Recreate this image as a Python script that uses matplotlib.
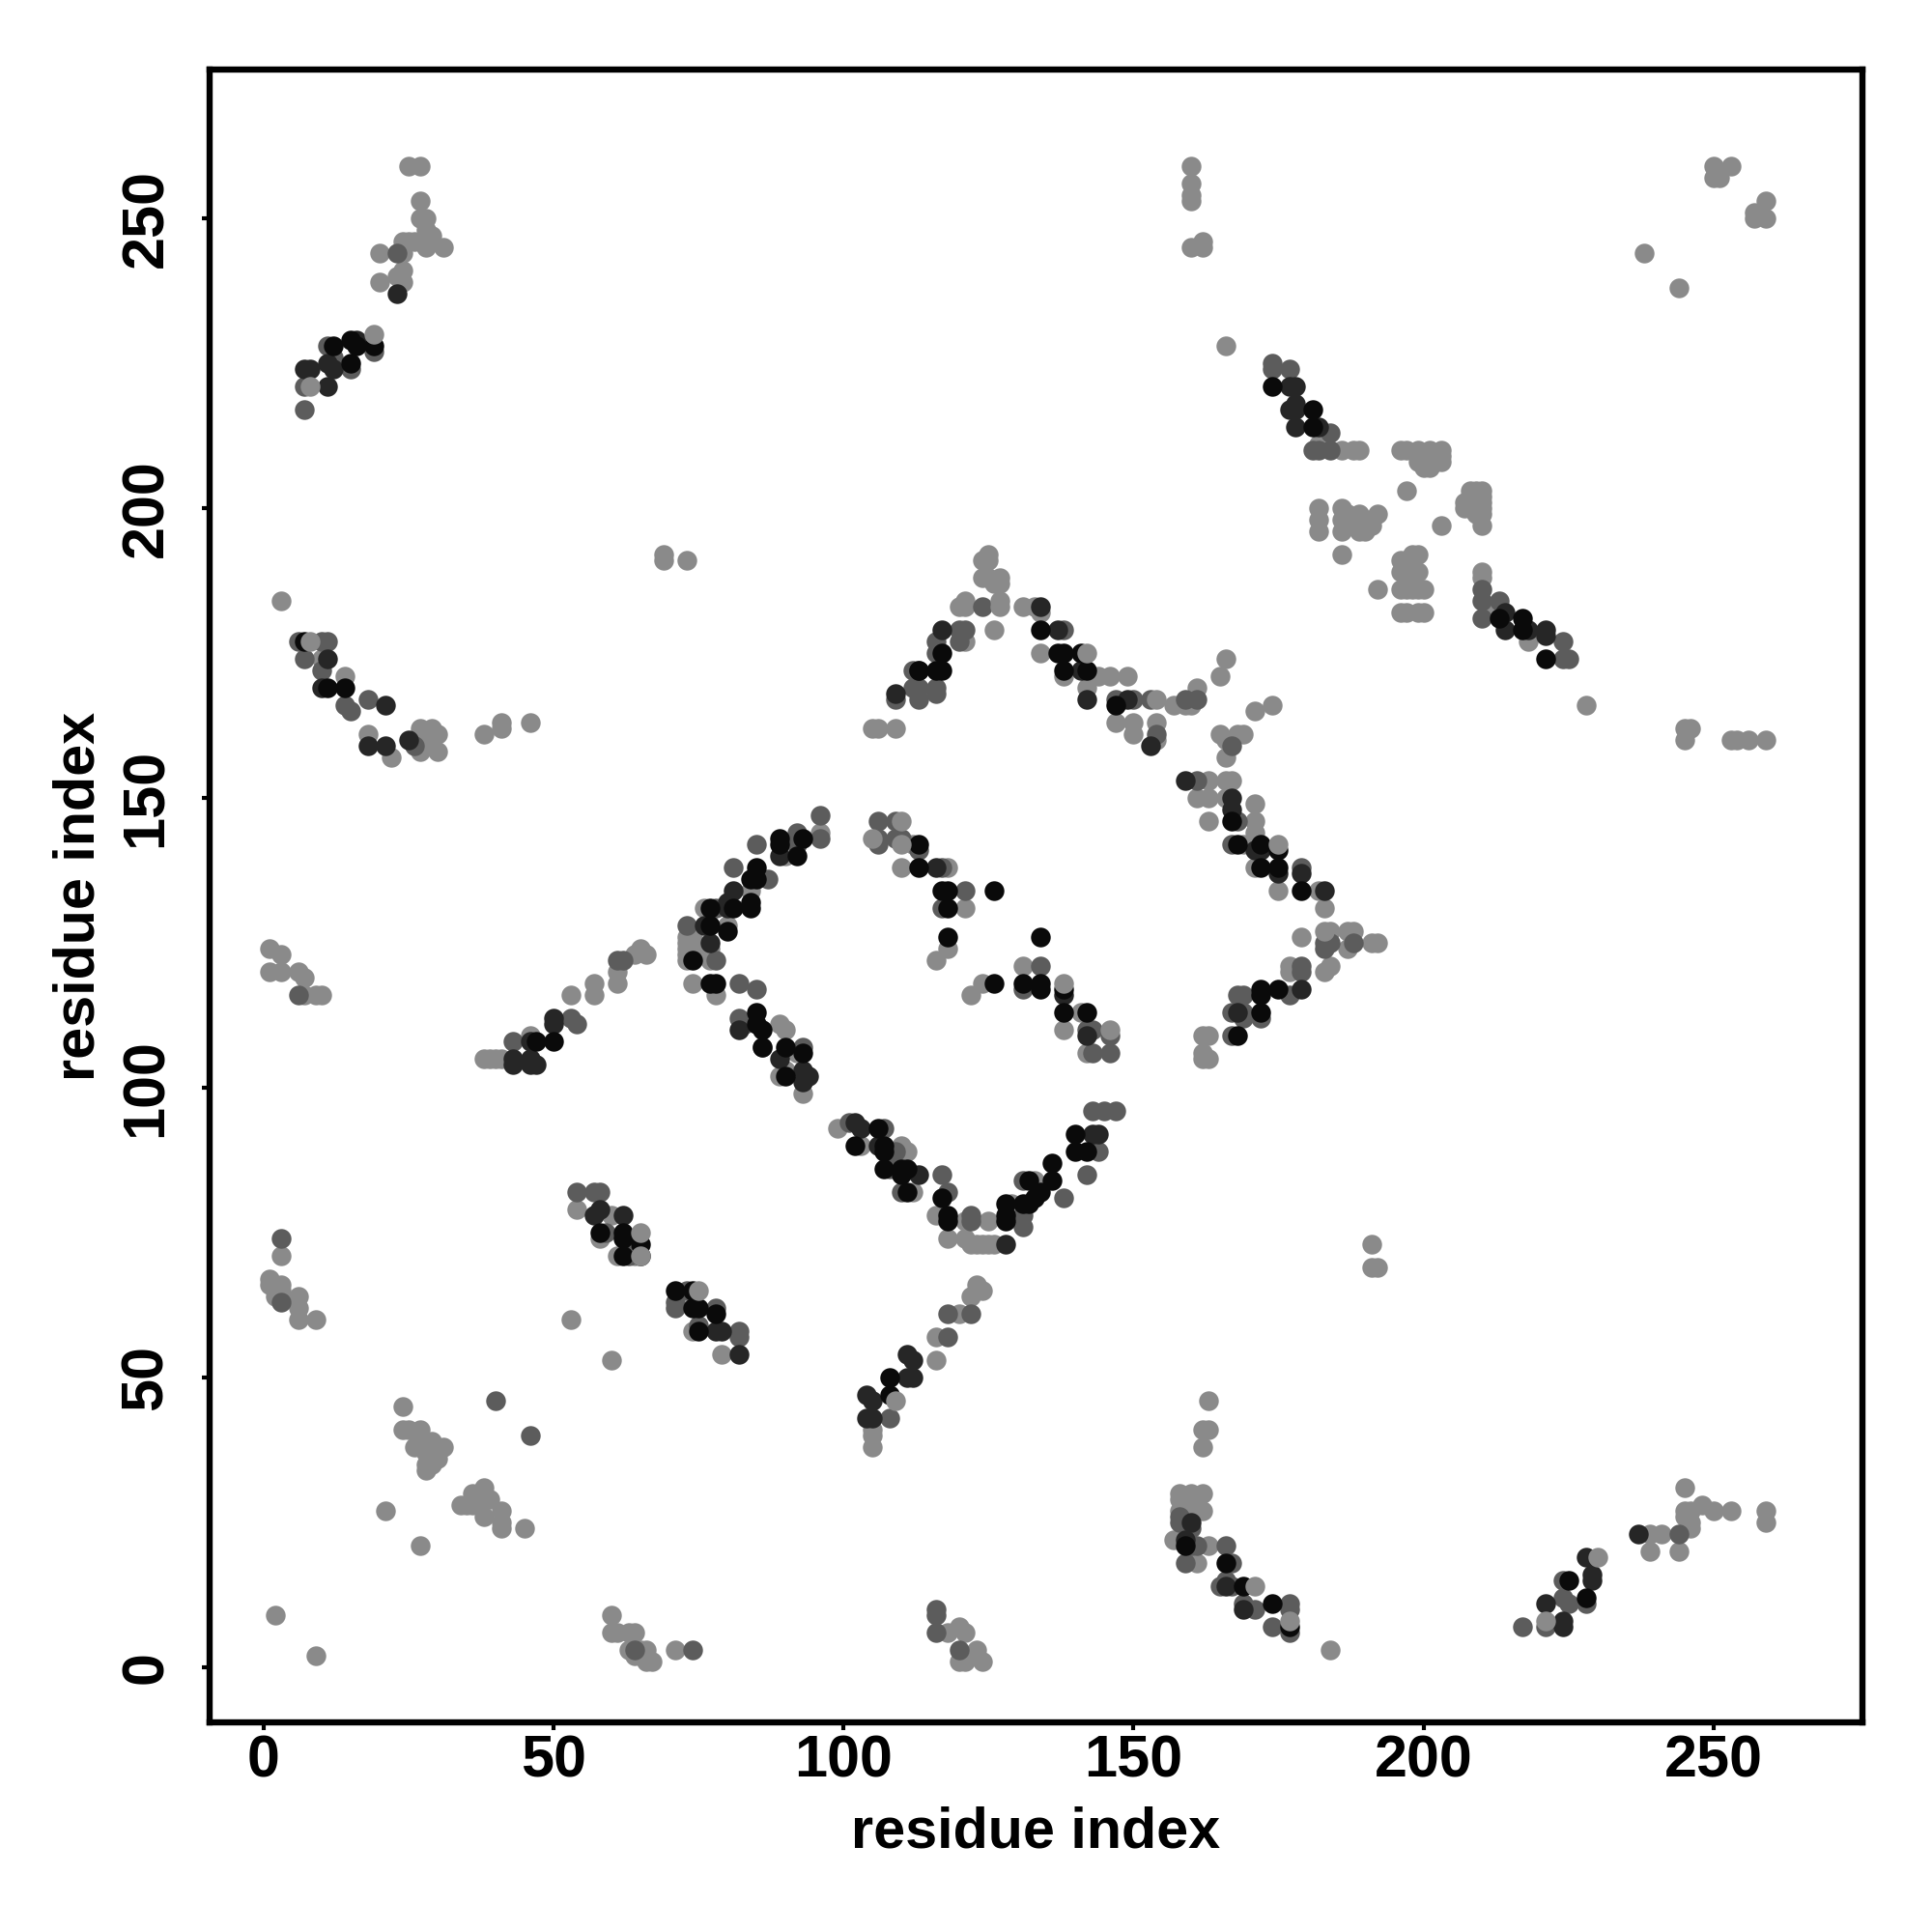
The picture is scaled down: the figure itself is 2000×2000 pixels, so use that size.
import matplotlib
matplotlib.use("Agg")
import matplotlib.pyplot as plt
import numpy as np

# contacts, grouped by grey level
light = [(25,259),(27,259),(27,253),(27,250),(28,250),(28,248),(28,245),(31,245),(20,244),(24,246),(25,246),(26,246),(27,246),(29,247),
(24,244),(20,239),(24,239),(24,241),(23,240),(69,192),(69,191),(73,191),(3,184),(10,174),(14,171),
(18,161),(22,157),(27,162),(29,162),(30,161),(30,158),(27,158),(28,160),(27,160),(38,161),(41,163),(41,162),(46,163),
(1,124),(1,120),(3,123),(3,120),(6,120),(7,119),(7,116),(9,116),(10,116),
(96,144),(90,140),(84,134),(76,131),(80,128),(77,124),(74,126),(73,126),(73,125),(74,125),(73,124),(74,124),(73,123),(74,123),(73,122),(77,122),(74,118),(78,116),
(89,111),(90,110),(92,106),(89,102),(90,103),(93,99),(99,93),(103,90),(110,90),(111,89),(112,82),(116,78),(118,74),(121,77),(121,74),
(122,73),(123,73),(124,73),(125,73),(126,73),(125,77),(129,80),(133,84),
(38,105),(39,105),(40,105),(41,105),(46,109),(53,116),(57,116),(57,118),(61,118),(61,120),(64,123),(65,124),(66,123),
(54,79),(60,78),(63,74),(61,71),(64,71),(58,74),(74,58),(79,54),(53,60),(60,53),
(123,66),(124,65),(122,64),(120,61),(116,57),(116,53),(105,38),(105,40),(105,41),
(184,3),(191,73),(191,69),(192,69),(163,46),(163,41),(162,41),(162,38),(158,30),(160,30),(162,30),(158,29),(158,27),(162,27),(160,28),
(157,22),(163,21),(161,18),(239,23),(241,23),(239,20),(244,20),(246,24),(245,26),(245,27),(245,31),
(246,27),(248,28),(250,27),(253,27),(259,27),(259,25),(246,25),(118,6),(120,7),(121,6),(123,3),(120,1),(121,1),(124,1),
(1,67),(1,66),(2,64),(3,66),(3,71),(3,65),(6,64),(6,62),(6,60),(9,60),
(24,45),(24,41),(25,41),(27,41),(27,39),(26,38),(29,39),(31,38),(28,37),(30,36),(28,34),(29,35),(28,35),
(21,27),(27,21),(34,28),(35,28),(36,30),(38,31),(38,29),(38,26),(39,29),(41,27),(41,24),(41,25),(45,24),(36,28),(2,9),(9,2),
(60,9),(60,6),(61,6),(63,6),(64,6),(63,3),(65,3),(66,3),(64,2),(67,1),(66,1),(71,3),
(125,192),(124,191),(125,191),(124,188),(125,188),(127,188),(126,187),(127,187),(121,184),(120,183),(121,183),
(126,179),(121,177),(105,162),(106,162),(109,162),(131,183),(133,183),(134,182),(134,175),(138,171),(144,171),(146,171),(149,171),
(142,169),(147,163),(150,163),(154,163),(150,161),(154,160),(157,166),(160,166),(159,166),(161,169),(166,174),(165,171),(171,165),(174,166),
(168,161),(169,161),(165,161),(166,160),(166,157),(163,153),(161,150),(163,150),(163,146),(166,153),(167,153),(166,150),
(171,149),(171,146),(171,144),(169,142),(171,138),(175,134),(182,134),(183,131),(179,126),
(184,127),(187,127),(188,127),(187,124),(191,125),(192,125),(183,120),(184,121),(177,121),(177,120),(162,109),(163,109),(162,106),(162,105),(163,105),
(112,142),(110,138),(118,138),(121,131),(118,124),(116,122),(131,121),(124,118),(122,116),(141,113),(138,110),(142,106),
(160,259),(160,256),(160,254),(160,253),(160,245),(162,246),(162,245),(250,259),(253,259),(250,257),(251,257),
(259,253),(257,251),(257,250),(259,250),(258,251),(238,244),(244,238),(166,228),(182,211),(186,210),(188,210),(189,210),
(196,210),(197,210),(199,210),(201,210),(203,210),(200,209),(201,209),(201,207),(202,209),(199,208),(203,209),(203,208),(202,208),(200,207),(197,203),
(210,203),(209,203),(208,203),(207,201),(207,200),(208,200),(209,201),(209,199),(210,202),(210,201),
(210,200),(208,202),(210,199),(210,197),(203,197),(182,200),(182,198),(182,196),(186,200),(186,198),(186,196),(187,199),(187,197),(188,197),(189,199),(189,196),(192,199),(191,198),(190,198),(191,197),(190,196),
(186,192),(192,186),(199,192),(198,192),(197,191),(198,190),(196,191),(196,189),(197,189),(199,189),(197,188),(198,188),(196,186),(197,186),(198,186),(199,186),(200,186),(196,182),(197,182),(199,182),(200,182),
(210,189),(210,188),(211,182),(218,177),(228,166),(245,162),(246,162),(245,160),(253,160),(254,160),(256,160),(259,160)]

mid = [(23,244),(19,227),(12,226),(11,228),(7,221),(7,217),(15,224),(6,177),(10,177),(11,177),(7,174),(10,172),(18,167),(14,166),(15,165),(26,159),
(6,116),(96,147),(96,143),(92,144),(92,142),(85,142),(87,136),(81,138),(78,131),(73,128),(78,122),(85,117),(82,118),(82,112),(83,111),(86,107),(93,107),
(101,94),(107,93),(109,89),(108,86),(110,82),(117,85),(118,82),(122,78),(122,77),(131,78),(131,76),(131,84),(138,81),(142,85),(143,96),(145,96),(147,96),(144,89),
(43,108),(53,112),(54,111),(61,122),(62,122),(54,82),(57,82),(58,82),(59,75),(63,71),(71,63),(71,62),(73,65),(75,59),(78,62),(82,58),(82,57),(122,61),(118,61),(118,57),
(108,43),(160,24),(158,26),(158,25),(160,21),(161,21),(166,21),(159,18),(167,18),(166,15),(165,14),(167,14),(169,11),(171,10),(177,11),(177,10),(174,7),(177,6),
(217,7),(221,7),(224,15),(224,12),(225,11),(228,11),(244,23),(116,10),(116,9),(116,6),(120,3),(3,74),(3,63),(40,46),(46,40),(64,3),(74,3),
(124,183),(120,179),(121,179),(120,177),(116,177),(116,175),(112,172),(113,169),(112,169),(116,169),(113,167),(116,168),(109,167),
(138,179),(147,167),(150,167),(153,167),(159,167),(161,167),(154,161),(167,159),(161,153),(167,142),(168,146),(179,138),(183,125),(184,125),(188,125),(183,124),
(179,121),(179,120),(177,116),(168,116),(169,116),(169,113),(167,113),(172,112),(169,112),(167,109),
(106,146),(109,146),(106,143),(106,142),(109,143),(110,143),(113,141),(117,138),(121,134),(117,131),(134,121),(131,117),(142,110),(143,110),(146,109),(143,106),(146,106),
(174,225),(174,224),(177,224),(184,213),(181,210),(182,210),(184,210),(210,186),(210,184),(210,181),(213,184),(224,177),(224,174),(225,174)]

dark = [(23,237),(16,229),(11,225),(12,224),(7,224),(8,224),(11,221),(11,174),(10,169),(21,166),(18,159),(21,159),(25,160),
(89,140),(81,134),(80,131),(80,132),(76,128),(77,125),(82,110),(89,105),(93,103),(94,102),(93,101),(102,94),(103,93),(106,90),(113,85),(128,73),(143,92),(144,92),
(43,105),(43,104),(46,105),(47,104),(46,104),(46,108),(50,112),(50,111),(58,79),(57,78),(62,78),(78,58),(79,58),(82,54),(111,54),(112,53),(111,50),(112,50),
(104,47),(105,46),(104,43),(105,43),(160,25),(159,22),(169,10),(221,11),(224,8),(224,7),(229,16),(229,15),(228,19),(237,23),(166,14),
(117,179),(113,172),(109,168),(134,183),(137,179),(141,172),(142,167),(149,167),(153,159),(159,153),(167,150),(167,148),(171,141),(172,141),(175,137),(179,137),(183,134),
(179,117),(168,113),(138,116),(142,109),(116,138),(177,221),(178,221),(178,218),(177,217),(178,217),(178,214),(182,214),(214,182),(214,179),(218,179),(221,179),(221,178)]

black = [(19,228),(15,229),(16,228),(12,228),(15,225),(7,177),(11,169),(14,169),
(92,140),(89,143),(89,142),(93,143),(85,138),(84,136),(85,136),(84,131),(84,132),(81,131),(77,131),(80,127),(77,128),(74,122),(77,118),(78,118),
(85,113),(85,111),(86,110),(86,107),(90,107),(93,106),(90,102),(102,90),(106,93),(107,90),(107,89),(107,86),(110,86),(111,86),(110,85),(111,82),
(117,81),(118,78),(118,77),(128,77),(128,78),(128,80),(131,80),(132,80),(132,84),(133,81),(134,82),(136,84),(136,87),(140,89),(140,92),(142,89),
(47,108),(50,108),(58,75),(62,75),(62,74),(65,73),(62,71),(65,71),(71,65),(74,65),(74,62),(75,62),(78,61),(75,58),(108,50),(108,47),
(159,21),(166,18),(169,14),(174,11),(177,7),(225,15),(228,12),
(117,175),(113,172),(116,172),(117,172),(134,179),(137,175),(138,175),(141,175),(138,172),(142,172),(147,166),
(167,146),(168,142),(172,142),(172,138),(175,141),(175,138),(179,134),(168,109),(172,117),(175,117),(172,116),(172,113),
(113,142),(113,138),(117,134),(118,134),(126,134),(118,131),(118,126),(134,126),(131,118),(134,118),(134,117),(126,118),(138,117),(138,113),(142,113),
(174,221),(181,217),(181,214),(213,181),(217,181),(217,179),(221,174)]

# light contacts that sit on top of the darker ones
light_top = [(19,230),(8,221),(8,177),(110,146),(142,175),(154,167),(175,142),(127,183),(127,184),(138,118),(75,65),(65,75),(65,71),
(230,19),(109,46),(171,14),(177,8),(221,8),(146,110),(183,127),(105,143),(110,142)]

ticks = [0, 50, 100, 150, 200, 250]

plt.rcParams["font.family"] = ["Liberation Sans", "DejaVu Sans"]
plt.rcParams["font.weight"] = "bold"

fig = plt.figure(figsize=(10, 10), dpi=200)
ax = fig.add_axes([217 / 2000, 1 - 1783 / 2000, 1711 / 2000, 1711 / 2000])

for pts, col in [(light, "#8a8a8a"), (mid, "#5c5c5c"), (dark, "#262626"), (black, "#0a0a0a"), (light_top, "#8a8a8a")]:
    pts = np.array(pts)
    ax.scatter(pts[:, 0], pts[:, 1], s=54, c=col, linewidths=0)

ax.set_xlim(-9.3, 275.7)
ax.set_ylim(-9.5, 275.7)
ax.set_xticks(ticks)
ax.set_yticks(ticks)
ax.set_xticklabels(ticks, fontsize=22, fontweight="bold")
ax.set_yticklabels(ticks, fontsize=22, fontweight="bold", rotation=90, va="center")
ax.tick_params(axis="x", length=3, width=1.5, pad=1.5)
ax.tick_params(axis="y", length=3, width=1.5, pad=10)
for s in ax.spines.values():
    s.set_linewidth(2.3)
ax.set_xlabel("residue index", fontsize=21.4, fontweight="bold", labelpad=6)
ax.set_ylabel("residue index", fontsize=21.4, fontweight="bold", labelpad=5)

fig.savefig("out.png", dpi=200)
